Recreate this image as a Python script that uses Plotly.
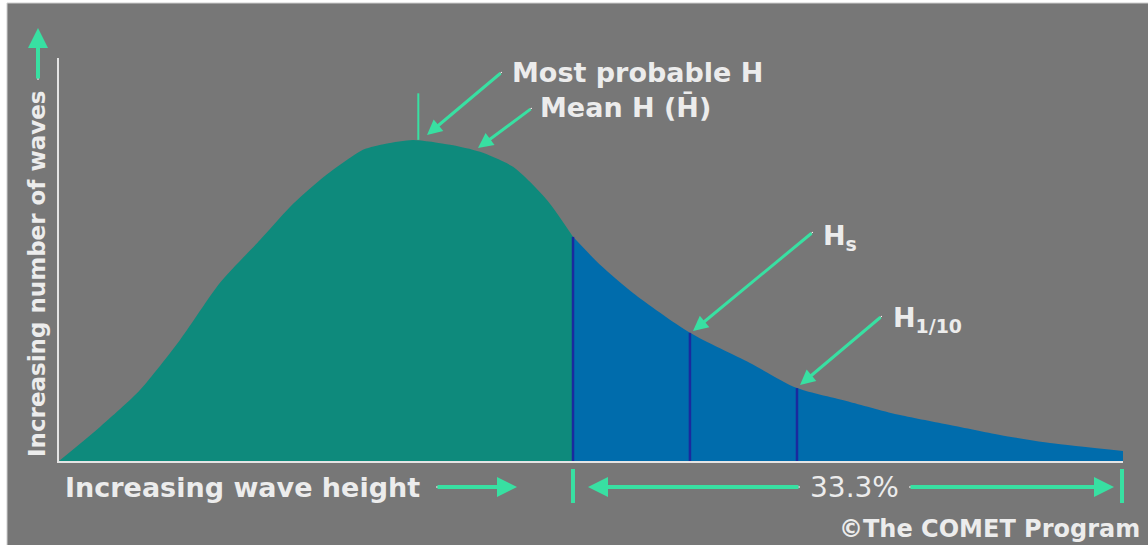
import numpy as np
import plotly.graph_objects as go

# wave height distribution (arbitrary units)
wave_height = [0.0, 0.385, 0.761, 1.137, 1.513, 1.889, 2.171, 2.453, 2.857, 3.072, 3.327,
               3.675, 3.957, 4.267, 4.586, 4.831, 5.085, 5.395, 5.930, 6.494, 6.936, 7.434,
               7.904, 8.374, 8.844, 9.314, 10.0]
wave_count = [0.0, 10.6, 22.1, 37.7, 55.5, 68.8, 79.1, 87.5, 96.9, 98.8, 100.0,
              98.5, 96.3, 91.6, 81.3, 69.8, 61.1, 52.3, 39.9, 30.5, 22.7, 18.4,
              14.3, 11.2, 8.1, 5.6, 3.1]

mode_h = 3.327     # most probable H
split_h = 4.831    # start of highest third of waves
hs = 5.930         # significant wave height
h10 = 6.936        # H 1/10

GRAY = '#777777'
TEAL = '#0e8a7c'
BLUE = '#006cac'
DARKBLUE = '#1a2a9e'
MINT = '#38e0a2'
TXT = '#ececec'
FONT = 'DejaVu Sans'

h = np.array(wave_height)
c = np.array(wave_count)
lower = h <= split_h
upper = h >= split_h

fig = go.Figure()
fig.add_trace(go.Scatter(x=h[lower], y=c[lower], mode='lines', fill='tozeroy',
                         fillcolor=TEAL, line=dict(width=0, shape='spline', smoothing=0.7),
                         hoverinfo='skip'))
fig.add_trace(go.Scatter(x=h[upper], y=c[upper], mode='lines', fill='tozeroy',
                         fillcolor=BLUE, line=dict(width=0, shape='spline', smoothing=0.7),
                         hoverinfo='skip'))

# dividing lines under the curve
vx, vy = [], []
for v in [split_h, hs, h10]:
    vx += [v, v, None]
    vy += [0, np.interp(v, h, c), None]
fig.add_trace(go.Scatter(x=vx, y=vy, mode='lines', line=dict(color=DARKBLUE, width=2.5),
                         hoverinfo='skip'))

# mode tick above the peak
peak = np.interp(mode_h, h, c)
fig.add_trace(go.Scatter(x=[mode_h + 0.05, mode_h + 0.05], y=[peak, peak + 14.5], mode='lines',
                         line=dict(color=MINT, width=2), hoverinfo='skip'))


def px(xp):
    return (xp - 59) / 1064


def py(yp):
    return (461 - yp) / 403


annotations = []
shapes = []

# outer frame
shapes.append(dict(type='rect', xref='paper', yref='paper', x0=px(7), x1=px(1160),
                   y0=py(3), y1=py(560), fillcolor=GRAY, line=dict(color='#cfcfcf', width=1),
                   layer='below'))


def arrow(x0, y0, x1, y1, width=3):
    annotations.append(dict(x=px(x1), y=py(y1), xref='paper', yref='paper',
                            ax=x0 - x1, ay=y0 - y1, text='', showarrow=True,
                            arrowhead=2, arrowsize=1.0, arrowwidth=width, arrowcolor=MINT))
    shapes.append(dict(type='line', xref='paper', yref='paper', x0=px(x0), y0=py(y0),
                       x1=px(x1 + (x0 - x1) * 0.06), y1=py(y1 + (y0 - y1) * 0.06),
                       line=dict(color='white', width=1, dash='dot'), layer='above'))


def label(text, x, y, size=27, xanchor='left', yanchor='middle', bold=True, angle=0):
    annotations.append(dict(x=px(x), y=py(y), xref='paper', yref='paper',
                            text='<b>%s</b>' % text if bold else text, showarrow=False,
                            xanchor=xanchor, yanchor=yanchor, textangle=angle,
                            font=dict(family=FONT, size=size, color=TXT)))


arrow(502, 72, 427, 135)
arrow(532, 108, 478, 148)
arrow(813, 232, 693, 331)
arrow(882, 316, 800, 385)

label('Most probable H', 510, 72)
label('Mean H (H\u0304)', 538, 107)
label('H<sub>s</sub>', 821, 237)
label('H<sub>1/10</sub>', 891, 320)

# axis labels with arrows
label('Increasing number of waves', 37, 274, size=23, xanchor='center', angle=-90)
arrow(38, 80, 38, 28, width=4)
label('Increasing wave height', 63, 487)
arrow(436, 487, 517, 487, width=4)

# 33.3% bracket
for xb in [573, 1122]:
    shapes.append(dict(type='line', xref='paper', yref='paper', x0=px(xb), x1=px(xb),
                       y0=py(469), y1=py(503), line=dict(color=MINT, width=4)))
arrow(800, 487, 588, 487, width=4)
arrow(909, 487, 1114, 487, width=4)
label('33.3%', 854, 487, size=28, xanchor='center', bold=False)

label('\u00a9The COMET Program', 1142, 529, size=24, xanchor='right')

fig.update_layout(
    width=1148, height=545,
    margin=dict(l=59, r=25, t=58, b=84),
    paper_bgcolor='white',
    plot_bgcolor='rgba(0,0,0,0)',
    showlegend=False,
    annotations=annotations,
    shapes=shapes,
    xaxis=dict(range=[0, 10], showline=True, linecolor='#e4e4e4', linewidth=2,
               showgrid=False, zeroline=False, showticklabels=False, ticks=''),
    yaxis=dict(range=[0, 125.5], showline=True, linecolor='#e4e4e4', linewidth=2,
               showgrid=False, zeroline=False, showticklabels=False, ticks=''),
)

fig.write_html("out.html", config={'displayModeBar': False},
               post_script="document.body.style.margin='0';")
